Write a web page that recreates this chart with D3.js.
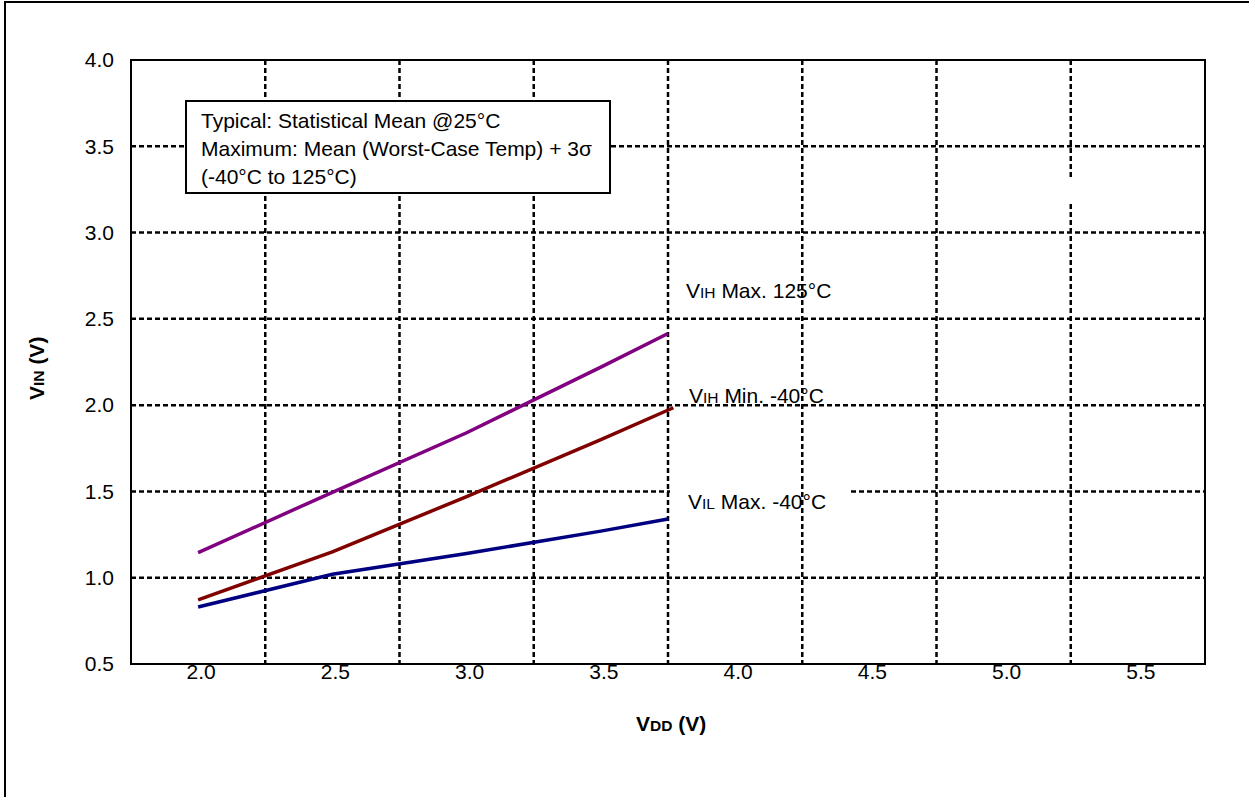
<!DOCTYPE html>
<html>
<head>
<meta charset="utf-8">
<script src="https://cdn.jsdelivr.net/npm/d3@7"></script>
<style>
  body { margin: 0; background: #fff; }
  svg { display: block; font-family: Arial, "Liberation Sans", sans-serif; }
</style>
</head>
<body>
<div id="chart"></div>
<script>
// data
var vdd = [2.0, 2.5, 3.0, 3.5, 3.75];
var vddRed = [2.0, 2.5, 3.0, 3.5, 3.77];
var vihMax125 = [1.145, 1.495, 1.84, 2.22, 2.415];
var vihMinM40 = [0.871, 1.15, 1.47, 1.80, 1.985];
var vilMaxM40 = [0.83, 1.02, 1.14, 1.27, 1.34];

var xTicks = [2.0, 2.5, 3.0, 3.5, 4.0, 4.5, 5.0, 5.5];
var xGrid = [2.25, 2.75, 3.25, 3.75, 4.25, 4.75, 5.25];
var yTicks = [0.5, 1.0, 1.5, 2.0, 2.5, 3.0, 3.5, 4.0];
var yGrid = [1.0, 1.5, 2.0, 2.5, 3.0, 3.5];

var legendLines = ["Typical: Statistical Mean @25°C",
                   "Maximum: Mean (Worst-Case Temp) + 3σ",
                   "(-40°C to 125°C)"];

var width = 1249, height = 797;
var plotL = 131, plotR = 1205, plotT = 60, plotB = 664;
var fs = 21;

var svg = d3.select("#chart").append("svg")
    .attr("width", width)
    .attr("height", height);

var x = d3.scaleLinear().domain([1.75, 5.75]).range([plotL, plotR]);
var y = d3.scaleLinear().domain([0.5, 4.0]).range([plotB, plotT]);

// outer frame (only top and left edges show in the picture)
svg.append("path")
    .attr("d", "M5," + height + "V2H" + width)
    .attr("fill", "none")
    .attr("stroke", "#000")
    .attr("stroke-width", 2);

// horizontal gridlines
svg.append("g").selectAll("line")
    .data(yGrid)
    .enter()
    .append("line")
    .attr("x1", plotL).attr("x2", plotR)
    .attr("y1", function(d){return y(d);})
    .attr("y2", function(d){return y(d);})
    .attr("stroke", "#000")
    .attr("stroke-width", 2.5)
    .attr("stroke-dasharray", "5,3");

// white box behind the lower label hides part of the 1.5 gridline
svg.append("rect")
    .attr("x", 670).attr("y", y(1.5) - 6)
    .attr("width", 181).attr("height", 12)
    .attr("fill", "#fff");

// vertical gridlines
svg.append("g").selectAll("line")
    .data(xGrid)
    .enter()
    .append("line")
    .attr("y1", plotT).attr("y2", plotB)
    .attr("x1", function(d){return x(d);})
    .attr("x2", function(d){return x(d);})
    .attr("stroke", "#000")
    .attr("stroke-width", 2.5)
    .attr("stroke-dasharray", "5,3");

// small gap in the last vertical gridline
svg.append("rect")
    .attr("x", x(5.25) - 5).attr("y", 178)
    .attr("width", 10).attr("height", 25)
    .attr("fill", "#fff");

// plot border
svg.append("rect")
    .attr("x", plotL).attr("y", plotT)
    .attr("width", plotR - plotL).attr("height", plotB - plotT)
    .attr("fill", "none")
    .attr("stroke", "#000")
    .attr("stroke-width", 2);

// tick labels
svg.append("g").selectAll("text")
    .data(yTicks)
    .enter()
    .append("text")
    .attr("x", 114)
    .attr("y", function(d){return y(d);})
    .attr("dy", "0.35em")
    .attr("text-anchor", "end")
    .attr("font-size", fs)
    .text(function(d){return d.toFixed(1);});

svg.append("g").selectAll("text")
    .data(xTicks)
    .enter()
    .append("text")
    .attr("x", function(d){return x(d) + 3;})
    .attr("y", 679)
    .attr("text-anchor", "middle")
    .attr("font-size", fs)
    .text(function(d){return d.toFixed(1);});

// series
var line = d3.line()
    .x(function(d){return x(d[0]);})
    .y(function(d){return y(d[1]);});

var series = [
    {xs: vdd, ys: vihMax125, color: "#800080"},
    {xs: vddRed, ys: vihMinM40, color: "#800000"},
    {xs: vdd, ys: vilMaxM40, color: "#000080"}
];

svg.append("g").selectAll("path")
    .data(series)
    .enter()
    .append("path")
    .attr("d", function(s){return line(d3.zip(s.xs, s.ys));})
    .attr("fill", "none")
    .attr("stroke", function(s){return s.color;})
    .attr("stroke-width", 3.5);

// legend box
svg.append("rect")
    .attr("x", 186).attr("y", 101)
    .attr("width", 424).attr("height", 92)
    .attr("fill", "#fff")
    .attr("stroke", "#000")
    .attr("stroke-width", 2);

svg.append("g").selectAll("text")
    .data(legendLines)
    .enter()
    .append("text")
    .attr("x", 201)
    .attr("y", function(d, i){return 128 + i*28;})
    .attr("font-size", fs)
    .text(function(d){return d;});

// series labels with small-cap subscripts
function subLabel(g, px, py, main, sub, rest, size, bold) {
    var t = g.append("text")
        .attr("x", px).attr("y", py)
        .attr("font-size", size)
        .attr("font-weight", bold ? "bold" : "normal");
    t.append("tspan").text(main);
    t.append("tspan").attr("font-size", size*0.74).text(sub);
    t.append("tspan").text(rest);
    return t;
}

subLabel(svg, 686, 298, "V", "IH", " Max. 125°C", fs);
subLabel(svg, 689, 403, "V", "IH", " Min. -40°C", fs);
subLabel(svg, 688, 509, "V", "IL", " Max. -40°C", fs);

// axis titles
subLabel(svg, 636, 731, "V", "DD", " (V)", 21, true);
subLabel(svg, 0, 0, "V", "IN", " (V)", 21, true)
    .attr("transform", "translate(44,400) rotate(-90)");
</script>
</body>
</html>
